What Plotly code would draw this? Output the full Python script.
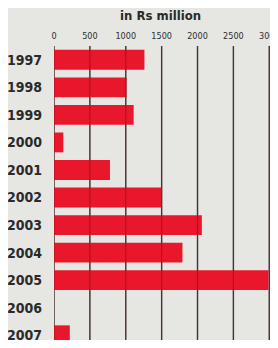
import plotly.graph_objects as go

years = ["1997", "1998", "1999", "2000", "2001", "2002", "2003", "2004", "2005", "2006", "2007"]
values = [1260, 1010, 1110, 130, 780, 1500, 2060, 1790, 2990, 0, 220]
tick_vals = [0, 500, 1000, 1500, 2000, 2500, 3000]
tick_text = ["0", "500", "1000", "1500", "2000", "2500", "3000"]

FONT = "DejaVu Sans Condensed, Liberation Sans Narrow, sans-serif"
BG = "#e6e6e2"

# the page body has an 8px margin; size the figure so the page does not scroll
W, H = 262, 332
L, R, T, B = 46, 0, 38, 0
pw = W - L - R
ph = H - T - B
pitch = 27.55
rows_visible = ph / pitch

fig = go.Figure(go.Bar(
    x=values, y=years, orientation="h",
    marker=dict(color="#e8172b", line=dict(width=0)),
    width=0.72,
))

shapes = []
for v in tick_vals:
    shapes.append(dict(type="line", xref="x", yref="paper", x0=v, x1=v, y0=0, y1=1,
                       line=dict(color="#4a4a4a", width=1.4), layer="below"))
    shapes.append(dict(type="line", xref="x", yref="paper", x0=v, x1=v, y0=0, y1=1,
                       line=dict(color="rgba(90,0,0,0.35)", width=1.2), layer="above"))

fig.update_layout(
    width=W, height=H,
    margin=dict(l=L, r=R, t=T, b=B, autoexpand=False),
    paper_bgcolor=BG, plot_bgcolor=BG,
    showlegend=False,
    xaxis=dict(
        range=[0, 3010], side="top", tickvals=tick_vals, ticktext=tick_text,
        showgrid=False, zeroline=False, showline=False, ticks="",
        automargin=False, ticklabeloverflow="allow", ticklabelstandoff=4,
        tickfont=dict(family=FONT, size=9, color="#2e2e2e"),
    ),
    yaxis=dict(
        categoryorder="array", categoryarray=years,
        range=[-0.5 + rows_visible, -0.5],
        showgrid=False, zeroline=False, showline=False, ticks="",
        automargin=False,
        tickfont=dict(family=FONT, size=14, color="#2a2a2a", weight="bold"),
        ticklabelstandoff=11,
    ),
    shapes=shapes,
    annotations=[
        dict(text="in Rs million", xref="paper", yref="paper",
             x=(152 - L) / pw, y=(H - 7) / ph, xanchor="center", yanchor="middle",
             showarrow=False, font=dict(family=FONT, size=13, color="#2a2a2a", weight="bold")),
        dict(text="procurements (1997-2007)", xref="paper", yref="paper",
             x=(4 - L) / pw, y=(H + 10) / ph, xanchor="left", yanchor="middle",
             showarrow=False, font=dict(family=FONT, size=16, color="#2a2a2a", weight="bold")),
    ],
)

fig.write_html("out.html")
